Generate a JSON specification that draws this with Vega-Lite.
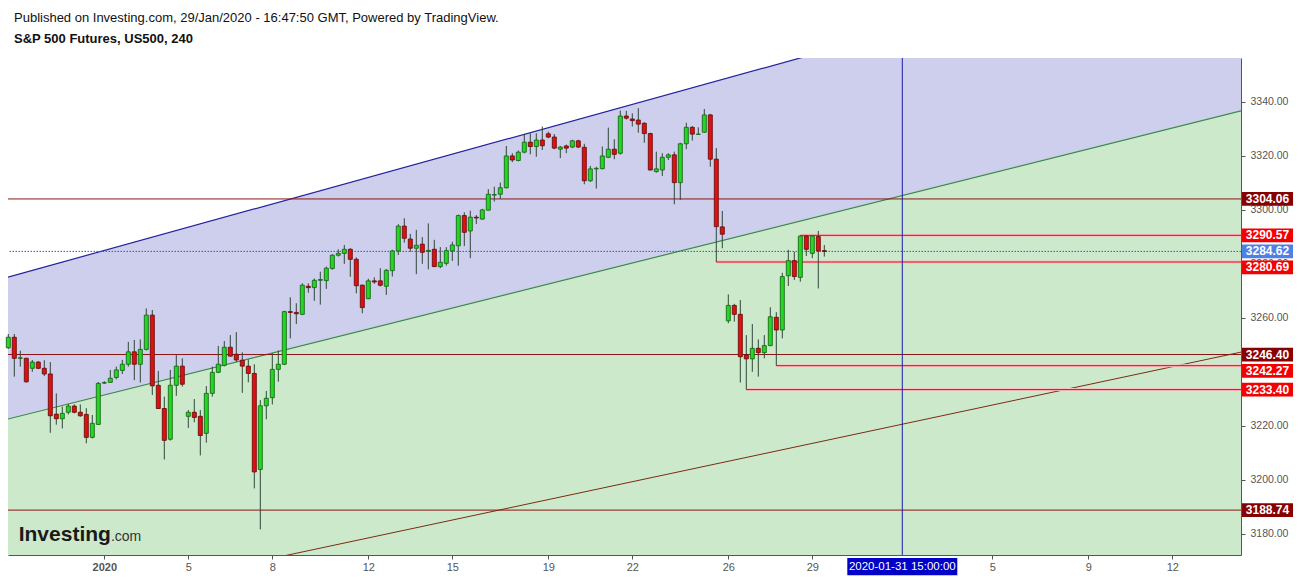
{
  "$schema": "https://vega.github.io/schema/vega-lite/v6.json",
  "width": 1233,
  "height": 497,
  "autosize": {"type": "none"},
  "padding": {"left": 8, "top": 58, "right": 58, "bottom": 25},
  "background": "white",
  "title": {
    "text": "Published on Investing.com, 29/Jan/2020 - 16:47:50 GMT, Powered by TradingView.",
    "subtitle": "S&P 500 Futures, US500, 240",
    "anchor": "start", "frame": "group", "dx": 6, "offset": 12,
    "font": "Liberation Sans", "fontSize": 13, "fontWeight": "normal", "color": "#111111",
    "subtitleFont": "Liberation Sans", "subtitleFontSize": 13, "subtitleFontWeight": "bold", "subtitleColor": "#111111", "subtitlePadding": 8
  },
  "datasets": {
    "candles": [
      {"i":0,"o":3248.9,"h":3254.0,"l":3248.5,"c":3252.8},
      {"i":1,"o":3252.8,"h":3254.0,"l":3238.2,"c":3245.0},
      {"i":2,"o":3245.0,"h":3247.8,"l":3241.9,"c":3245.2},
      {"i":3,"o":3245.0,"h":3245.2,"l":3236.0,"c":3236.3},
      {"i":4,"o":3241.3,"h":3244.4,"l":3240.0,"c":3243.6},
      {"i":5,"o":3243.6,"h":3244.0,"l":3241.0,"c":3241.3},
      {"i":6,"o":3241.3,"h":3244.3,"l":3238.4,"c":3239.2},
      {"i":7,"o":3239.2,"h":3243.6,"l":3217.4,"c":3223.7},
      {"i":8,"o":3224.3,"h":3232.0,"l":3220.4,"c":3222.6},
      {"i":9,"o":3222.6,"h":3227.1,"l":3219.0,"c":3224.6},
      {"i":10,"o":3225.0,"h":3228.1,"l":3224.2,"c":3227.3},
      {"i":11,"o":3227.3,"h":3227.9,"l":3224.6,"c":3225.0},
      {"i":12,"o":3225.0,"h":3227.9,"l":3223.3,"c":3223.7},
      {"i":13,"o":3224.2,"h":3226.5,"l":3213.5,"c":3215.7},
      {"i":14,"o":3215.7,"h":3224.0,"l":3215.3,"c":3220.9},
      {"i":15,"o":3220.5,"h":3236.2,"l":3220.3,"c":3235.7},
      {"i":16,"o":3235.8,"h":3236.5,"l":3235.5,"c":3236.0},
      {"i":17,"o":3236.1,"h":3240.7,"l":3235.9,"c":3237.6},
      {"i":18,"o":3237.9,"h":3241.9,"l":3237.2,"c":3240.7},
      {"i":19,"o":3240.5,"h":3244.4,"l":3239.2,"c":3242.8},
      {"i":20,"o":3242.8,"h":3251.1,"l":3241.9,"c":3247.4},
      {"i":21,"o":3247.4,"h":3251.8,"l":3236.9,"c":3242.8},
      {"i":22,"o":3242.8,"h":3252.0,"l":3236.0,"c":3248.3},
      {"i":23,"o":3248.3,"h":3263.5,"l":3247.9,"c":3261.0},
      {"i":24,"o":3261.0,"h":3262.9,"l":3231.4,"c":3234.8},
      {"i":25,"o":3235.0,"h":3240.3,"l":3226.2,"c":3226.4},
      {"i":26,"o":3226.4,"h":3230.8,"l":3207.5,"c":3214.6},
      {"i":27,"o":3215.0,"h":3240.7,"l":3214.5,"c":3235.0},
      {"i":28,"o":3235.0,"h":3246.2,"l":3231.1,"c":3242.1},
      {"i":29,"o":3242.1,"h":3245.0,"l":3234.5,"c":3235.4},
      {"i":30,"o":3223.5,"h":3225.8,"l":3219.2,"c":3225.0},
      {"i":31,"o":3225.0,"h":3229.9,"l":3221.3,"c":3223.1},
      {"i":32,"o":3223.5,"h":3225.8,"l":3209.0,"c":3216.4},
      {"i":33,"o":3217.2,"h":3234.7,"l":3213.7,"c":3232.0},
      {"i":34,"o":3232.0,"h":3241.9,"l":3230.8,"c":3239.8},
      {"i":35,"o":3239.8,"h":3249.6,"l":3239.5,"c":3242.8},
      {"i":36,"o":3242.4,"h":3251.4,"l":3242.0,"c":3249.1},
      {"i":37,"o":3249.1,"h":3253.6,"l":3245.6,"c":3245.8},
      {"i":38,"o":3246.5,"h":3254.7,"l":3243.7,"c":3244.4},
      {"i":39,"o":3244.3,"h":3247.2,"l":3232.2,"c":3242.1},
      {"i":40,"o":3242.1,"h":3244.6,"l":3236.1,"c":3239.4},
      {"i":41,"o":3239.4,"h":3242.8,"l":3196.8,"c":3202.9},
      {"i":42,"o":3203.8,"h":3229.5,"l":3181.6,"c":3227.4},
      {"i":43,"o":3227.4,"h":3232.9,"l":3222.4,"c":3230.2},
      {"i":44,"o":3230.4,"h":3246.9,"l":3227.9,"c":3240.9},
      {"i":45,"o":3240.9,"h":3247.9,"l":3236.3,"c":3242.8},
      {"i":46,"o":3242.8,"h":3262.6,"l":3242.5,"c":3262.3},
      {"i":47,"o":3262.3,"h":3267.6,"l":3252.4,"c":3262.0},
      {"i":48,"o":3262.0,"h":3265.4,"l":3257.7,"c":3261.5},
      {"i":49,"o":3261.3,"h":3272.8,"l":3261.0,"c":3272.1},
      {"i":50,"o":3271.7,"h":3272.8,"l":3269.3,"c":3271.2},
      {"i":51,"o":3271.2,"h":3274.6,"l":3266.3,"c":3273.9},
      {"i":52,"o":3273.9,"h":3277.1,"l":3264.9,"c":3274.2},
      {"i":53,"o":3273.8,"h":3279.0,"l":3270.7,"c":3278.4},
      {"i":54,"o":3278.3,"h":3283.6,"l":3277.8,"c":3283.2},
      {"i":55,"o":3283.2,"h":3285.4,"l":3282.7,"c":3283.9},
      {"i":56,"o":3283.9,"h":3287.0,"l":3280.0,"c":3285.4},
      {"i":57,"o":3285.4,"h":3285.8,"l":3275.2,"c":3281.7},
      {"i":58,"o":3281.7,"h":3282.4,"l":3269.1,"c":3271.9},
      {"i":59,"o":3272.1,"h":3272.3,"l":3261.7,"c":3263.8},
      {"i":60,"o":3267.1,"h":3274.5,"l":3266.9,"c":3273.7},
      {"i":61,"o":3273.7,"h":3275.0,"l":3272.6,"c":3273.3},
      {"i":62,"o":3273.7,"h":3278.4,"l":3271.6,"c":3272.1},
      {"i":63,"o":3271.7,"h":3278.1,"l":3268.5,"c":3277.6},
      {"i":64,"o":3277.5,"h":3285.2,"l":3275.3,"c":3284.8},
      {"i":65,"o":3284.8,"h":3294.7,"l":3283.3,"c":3294.0},
      {"i":66,"o":3294.0,"h":3296.9,"l":3287.9,"c":3289.5},
      {"i":67,"o":3289.2,"h":3291.1,"l":3284.5,"c":3285.8},
      {"i":68,"o":3285.8,"h":3292.6,"l":3276.2,"c":3286.9},
      {"i":69,"o":3287.3,"h":3289.9,"l":3280.0,"c":3284.3},
      {"i":70,"o":3284.6,"h":3295.0,"l":3278.0,"c":3285.0},
      {"i":71,"o":3285.4,"h":3288.9,"l":3278.8,"c":3279.0},
      {"i":72,"o":3279.0,"h":3286.2,"l":3278.4,"c":3280.6},
      {"i":73,"o":3280.2,"h":3286.2,"l":3279.4,"c":3284.9},
      {"i":74,"o":3284.8,"h":3288.2,"l":3281.1,"c":3287.0},
      {"i":75,"o":3286.7,"h":3298.3,"l":3279.3,"c":3297.9},
      {"i":76,"o":3297.9,"h":3299.1,"l":3286.6,"c":3291.7},
      {"i":77,"o":3292.2,"h":3299.7,"l":3282.1,"c":3297.3},
      {"i":78,"o":3297.3,"h":3298.1,"l":3294.8,"c":3297.0},
      {"i":79,"o":3296.6,"h":3300.4,"l":3296.4,"c":3300.0},
      {"i":80,"o":3299.9,"h":3307.7,"l":3299.8,"c":3305.8},
      {"i":81,"o":3305.5,"h":3308.6,"l":3303.1,"c":3305.7},
      {"i":82,"o":3305.8,"h":3310.1,"l":3304.1,"c":3308.2},
      {"i":83,"o":3308.2,"h":3323.7,"l":3308.0,"c":3320.0},
      {"i":84,"o":3320.0,"h":3321.0,"l":3317.7,"c":3318.5},
      {"i":85,"o":3318.3,"h":3322.0,"l":3318.0,"c":3321.4},
      {"i":86,"o":3321.4,"h":3328.2,"l":3321.0,"c":3325.1},
      {"i":87,"o":3325.1,"h":3328.4,"l":3320.6,"c":3323.5},
      {"i":88,"o":3323.5,"h":3328.4,"l":3319.7,"c":3325.9},
      {"i":89,"o":3325.9,"h":3330.9,"l":3322.2,"c":3323.8},
      {"i":90,"o":3328.2,"h":3329.0,"l":3326.6,"c":3327.0},
      {"i":91,"o":3327.0,"h":3328.1,"l":3322.5,"c":3322.9},
      {"i":92,"o":3322.5,"h":3323.7,"l":3319.2,"c":3323.3},
      {"i":93,"o":3323.7,"h":3324.2,"l":3321.0,"c":3322.9},
      {"i":94,"o":3323.3,"h":3326.0,"l":3322.9,"c":3325.6},
      {"i":95,"o":3325.6,"h":3326.0,"l":3322.9,"c":3323.3},
      {"i":96,"o":3323.2,"h":3324.5,"l":3309.5,"c":3310.8},
      {"i":97,"o":3310.8,"h":3316.3,"l":3310.4,"c":3315.2},
      {"i":98,"o":3315.2,"h":3316.0,"l":3307.9,"c":3315.4},
      {"i":99,"o":3315.3,"h":3323.5,"l":3315.0,"c":3320.0},
      {"i":100,"o":3319.5,"h":3330.5,"l":3319.2,"c":3322.5},
      {"i":101,"o":3322.5,"h":3326.2,"l":3318.8,"c":3320.6},
      {"i":102,"o":3321.0,"h":3336.8,"l":3320.5,"c":3334.8},
      {"i":103,"o":3334.8,"h":3336.7,"l":3333.5,"c":3334.0},
      {"i":104,"o":3333.7,"h":3335.8,"l":3330.9,"c":3333.1},
      {"i":105,"o":3333.3,"h":3337.7,"l":3328.6,"c":3331.8},
      {"i":106,"o":3332.1,"h":3332.5,"l":3324.9,"c":3328.3},
      {"i":107,"o":3328.3,"h":3328.6,"l":3314.6,"c":3314.8},
      {"i":108,"o":3314.2,"h":3321.6,"l":3313.8,"c":3315.2},
      {"i":109,"o":3314.8,"h":3321.0,"l":3312.6,"c":3319.5},
      {"i":110,"o":3319.5,"h":3321.0,"l":3318.5,"c":3320.4},
      {"i":111,"o":3320.4,"h":3321.6,"l":3302.1,"c":3310.1},
      {"i":112,"o":3310.1,"h":3324.9,"l":3303.7,"c":3324.5},
      {"i":113,"o":3324.5,"h":3332.3,"l":3322.5,"c":3330.6},
      {"i":114,"o":3330.6,"h":3331.1,"l":3325.7,"c":3328.1},
      {"i":115,"o":3328.0,"h":3330.6,"l":3327.9,"c":3328.1},
      {"i":116,"o":3328.8,"h":3337.4,"l":3328.5,"c":3335.2},
      {"i":117,"o":3335.2,"h":3335.6,"l":3316.0,"c":3318.8},
      {"i":118,"o":3318.8,"h":3322.9,"l":3280.69,"c":3293.8},
      {"i":119,"o":3293.7,"h":3299.6,"l":3285.8,"c":3291.0},
      {"i":120,"o":3258.9,"h":3268.7,"l":3258.0,"c":3264.6},
      {"i":121,"o":3264.6,"h":3265.2,"l":3258.6,"c":3261.3},
      {"i":122,"o":3261.3,"h":3266.6,"l":3236.0,"c":3245.6},
      {"i":123,"o":3246.2,"h":3253.6,"l":3233.4,"c":3244.8},
      {"i":124,"o":3244.8,"h":3257.7,"l":3240.0,"c":3248.7},
      {"i":125,"o":3248.7,"h":3252.0,"l":3238.2,"c":3247.1},
      {"i":126,"o":3247.1,"h":3253.6,"l":3245.0,"c":3249.7},
      {"i":127,"o":3249.7,"h":3263.9,"l":3249.5,"c":3260.4},
      {"i":128,"o":3260.2,"h":3262.1,"l":3242.27,"c":3255.5},
      {"i":129,"o":3255.5,"h":3276.7,"l":3252.4,"c":3275.3},
      {"i":130,"o":3275.6,"h":3285.2,"l":3271.8,"c":3281.2},
      {"i":131,"o":3281.2,"h":3284.5,"l":3274.0,"c":3275.3},
      {"i":132,"o":3275.0,"h":3290.57,"l":3273.4,"c":3290.3},
      {"i":133,"o":3290.3,"h":3290.57,"l":3282.9,"c":3285.4},
      {"i":134,"o":3283.9,"h":3290.57,"l":3282.1,"c":3290.3},
      {"i":135,"o":3290.1,"h":3292.2,"l":3270.9,"c":3284.8},
      {"i":136,"o":3284.9,"h":3287.0,"l":3282.7,"c":3284.62}
    ],
    "channel": [
      {"i": -0.05, "g": 3222.5, "b": 3275.1, "r": 3150.0},
      {"i": 205.45, "g": 3336.7, "b": 3401.5, "r": 3247.3}
    ],
    "levels": [
      {"v": 3304.06, "kind": "level"},
      {"v": 3246.40, "kind": "level"},
      {"v": 3188.74, "kind": "level"}
    ],
    "rays": [
      {"v": 3290.57, "start": 132, "kind": "ray"},
      {"v": 3280.69, "start": 118, "kind": "ray"},
      {"v": 3242.27, "start": 128, "kind": "ray"},
      {"v": 3233.40, "start": 123, "kind": "ray"}
    ],
    "last": [{"v": 3284.62, "kind": "last"}],
    "labels": [
      {"v": 3304.06, "kind": "level"},
      {"v": 3290.57, "kind": "ray"},
      {"v": 3284.62, "kind": "last"},
      {"v": 3280.69, "kind": "ray"},
      {"v": 3246.40, "kind": "level"},
      {"v": 3242.27, "kind": "ray"},
      {"v": 3233.40, "kind": "ray"},
      {"v": 3188.74, "kind": "level"}
    ],
    "cursor": [{"t": "2020-01-31 15:00:00"}],
    "logo": [{"a": "Investing", "b": ".com"}]
  },
  "layer": [
    {
      "data": {"name": "channel"},
      "mark": {"type": "area", "color": "#cde9cc", "opacity": 1, "clip": true},
      "encoding": {
        "x": {"field": "i", "type": "quantitative",
          "scale": {"domain": [-0.05, 205.45], "nice": false, "zero": false, "padding": 0},
          "axis": {
            "title": null, "grid": false, "orient": "bottom",
            "values": [16, 30, 44, 60, 74, 90, 104, 120, 134, 164, 180, 194],
            "labelExpr": "datum.value==16?'2020':datum.value==30?'5':datum.value==44?'8':datum.value==60?'12':datum.value==74?'15':datum.value==90?'19':datum.value==104?'22':datum.value==120?'26':datum.value==134?'29':datum.value==164?'5':datum.value==180?'9':datum.value==194?'12':''",
            "labelFontWeight": {"condition": {"test": "datum.value == 16", "value": "bold"}, "value": "normal"},
            "tickSize": 4, "labelPadding": 2, "domainColor": "#555555", "tickColor": "#555555",
            "labelColor": "#555555", "labelFont": "Liberation Sans", "labelFontSize": 11, "labelFlush": false, "labelOverlap": false
          }
        },
        "y": {"field": "g", "type": "quantitative",
          "scale": {"domain": [3172.1, 3356.3], "nice": false, "zero": false, "padding": 0},
          "axis": {
            "title": null, "grid": false, "orient": "right",
            "values": [3180, 3200, 3220, 3240, 3260, 3280, 3300, 3320, 3340],
            "format": ".2f", "tickSize": 4, "labelPadding": 5, "domainColor": "#555555", "tickColor": "#555555",
            "labelColor": "#555555", "labelFont": "Liberation Sans", "labelFontSize": 10.5, "labelFlush": false, "labelOverlap": false
          }
        }
      }
    },
    {
      "data": {"name": "channel"},
      "mark": {"type": "area", "color": "#cdcfec", "opacity": 1, "clip": true},
      "encoding": {
        "x": {"field": "i", "type": "quantitative", "title": null},
        "y": {"field": "g", "type": "quantitative", "title": null},
        "y2": {"field": "b"}
      }
    },
    {
      "data": {"name": "channel"},
      "mark": {"type": "line", "color": "#7a2c12", "strokeWidth": 1, "clip": true},
      "encoding": {
        "x": {"field": "i", "type": "quantitative", "title": null},
        "y": {"field": "r", "type": "quantitative", "title": null}
      }
    },
    {
      "data": {"name": "channel"},
      "mark": {"type": "line", "color": "#3a8a4a", "strokeWidth": 1.2, "clip": true},
      "encoding": {
        "x": {"field": "i", "type": "quantitative", "title": null},
        "y": {"field": "g", "type": "quantitative", "title": null}
      }
    },
    {
      "data": {"name": "channel"},
      "mark": {"type": "line", "color": "#22229e", "strokeWidth": 1.2, "clip": true},
      "encoding": {
        "x": {"field": "i", "type": "quantitative", "title": null},
        "y": {"field": "b", "type": "quantitative", "title": null}
      }
    },
    {
      "data": {"name": "levels"},
      "mark": {"type": "rule", "color": "#8b1414", "strokeWidth": 1},
      "encoding": {
        "y": {"field": "v", "type": "quantitative", "title": null}
      }
    },
    {
      "data": {"name": "last"},
      "mark": {"type": "rule", "color": "#2456e8", "strokeWidth": 1, "strokeDash": [1.5, 1.5]},
      "encoding": {
        "y": {"field": "v", "type": "quantitative", "title": null}
      }
    },
    {
      "data": {"name": "rays"},
      "mark": {"type": "rule", "color": "#f6c2c2", "strokeWidth": 3},
      "encoding": {
        "x": {"field": "start", "type": "quantitative", "title": null},
        "x2": {"datum": 205.45},
        "y": {"field": "v", "type": "quantitative", "title": null}
      }
    },
    {
      "data": {"name": "rays"},
      "mark": {"type": "rule", "color": "#e00a0a", "strokeWidth": 1},
      "encoding": {
        "x": {"field": "start", "type": "quantitative", "title": null},
        "x2": {"datum": 205.45},
        "y": {"field": "v", "type": "quantitative", "title": null}
      }
    },
    {
      "data": {"name": "cursor"},
      "mark": {"type": "rule", "color": "#1c1caa", "strokeWidth": 1},
      "encoding": {
        "x": {"datum": 149}
      }
    },
    {
      "data": {"name": "candles"},
      "mark": {"type": "rule", "color": "#30473a", "strokeWidth": 1},
      "encoding": {
        "x": {"field": "i", "type": "quantitative", "title": null},
        "y": {"field": "l", "type": "quantitative", "title": null},
        "y2": {"field": "h"}
      }
    },
    {
      "data": {"name": "candles"},
      "mark": {"type": "bar", "orient": "vertical", "size": 4, "strokeWidth": 0.9},
      "encoding": {
        "x": {"field": "i", "type": "quantitative", "title": null},
        "y": {"field": "o", "type": "quantitative", "title": null},
        "y2": {"field": "c"},
        "fill": {"condition": {"test": "datum.c >= datum.o", "value": "#22d822"}, "value": "#dd1111"},
        "stroke": {"condition": {"test": "datum.c >= datum.o", "value": "#176a17"}, "value": "#6e0b0b"}
      }
    },
    {
      "data": {"name": "labels"},
      "transform": [{"filter": "datum.v != 3280.69 && datum.v != 3242.27"}],
      "mark": {"type": "point", "shape": "M-1,-0.27L1,-0.27L1,0.27L-1,0.27Z", "filled": true, "size": 2601, "opacity": 1, "strokeWidth": 0},
      "encoding": {
        "x": {"datum": 209.87},
        "y": {"field": "v", "type": "quantitative", "title": null},
        "fill": {"field": "kind", "type": "nominal", "legend": null,
          "scale": {"domain": ["level", "ray", "last"], "range": ["#870000", "#f40000", "#4f80e6"]}}
      }
    },
    {
      "data": {"name": "labels"},
      "transform": [{"filter": "datum.v == 3280.69 || datum.v == 3242.27"}],
      "mark": {"type": "point", "shape": "M-1,-0.27L1,-0.27L1,0.27L-1,0.27Z", "filled": true, "size": 2601, "opacity": 1, "strokeWidth": 0, "yOffset": 5.3},
      "encoding": {
        "x": {"datum": 209.87},
        "y": {"field": "v", "type": "quantitative", "title": null},
        "fill": {"field": "kind", "type": "nominal", "legend": null,
          "scale": {"domain": ["level", "ray", "last"], "range": ["#870000", "#f40000", "#4f80e6"]}}
      }
    },
    {
      "data": {"name": "labels"},
      "transform": [{"filter": "datum.v != 3280.69 && datum.v != 3242.27"}],
      "mark": {"type": "text", "color": "white", "font": "Liberation Sans", "fontWeight": "bold", "fontSize": 12, "align": "center", "baseline": "middle"},
      "encoding": {
        "x": {"datum": 209.87},
        "y": {"field": "v", "type": "quantitative", "title": null},
        "text": {"field": "v", "type": "quantitative", "format": ".2f"}
      }
    },
    {
      "data": {"name": "labels"},
      "transform": [{"filter": "datum.v == 3280.69 || datum.v == 3242.27"}],
      "mark": {"type": "text", "color": "white", "font": "Liberation Sans", "fontWeight": "bold", "fontSize": 12, "align": "center", "baseline": "middle", "yOffset": 5.3},
      "encoding": {
        "x": {"datum": 209.87},
        "y": {"field": "v", "type": "quantitative", "title": null},
        "text": {"field": "v", "type": "quantitative", "format": ".2f"}
      }
    },
    {
      "data": {"name": "cursor"},
      "mark": {"type": "point", "shape": "M-1,-0.155L1,-0.155L1,0.155L-1,0.155Z", "filled": true, "size": 12100, "opacity": 1, "strokeWidth": 0, "color": "#0000c8"},
      "encoding": {
        "x": {"datum": 149},
        "y": {"datum": 3167.8}
      }
    },
    {
      "data": {"name": "cursor"},
      "mark": {"type": "text", "color": "white", "font": "Liberation Sans", "fontSize": 11.5, "align": "center", "baseline": "middle"},
      "encoding": {
        "x": {"datum": 149},
        "y": {"datum": 3167.8},
        "text": {"field": "t", "type": "nominal"}
      }
    },
    {
      "data": {"name": "logo"},
      "mark": {"type": "text", "color": "#1a1a1a", "font": "Liberation Sans", "fontWeight": "bold", "fontSize": 21, "align": "right", "baseline": "alphabetic"},
      "encoding": {
        "x": {"datum": 17.1},
        "y": {"datum": 3177.3},
        "text": {"field": "a", "type": "nominal"}
      }
    },
    {
      "data": {"name": "logo"},
      "mark": {"type": "text", "color": "#333333", "font": "Liberation Sans", "fontSize": 14, "align": "left", "baseline": "alphabetic"},
      "encoding": {
        "x": {"datum": 17.1},
        "y": {"datum": 3177.3},
        "text": {"field": "b", "type": "nominal"}
      }
    }
  ],
  "config": {
    "view": {"stroke": null},
    "font": "Liberation Sans"
  }
}
